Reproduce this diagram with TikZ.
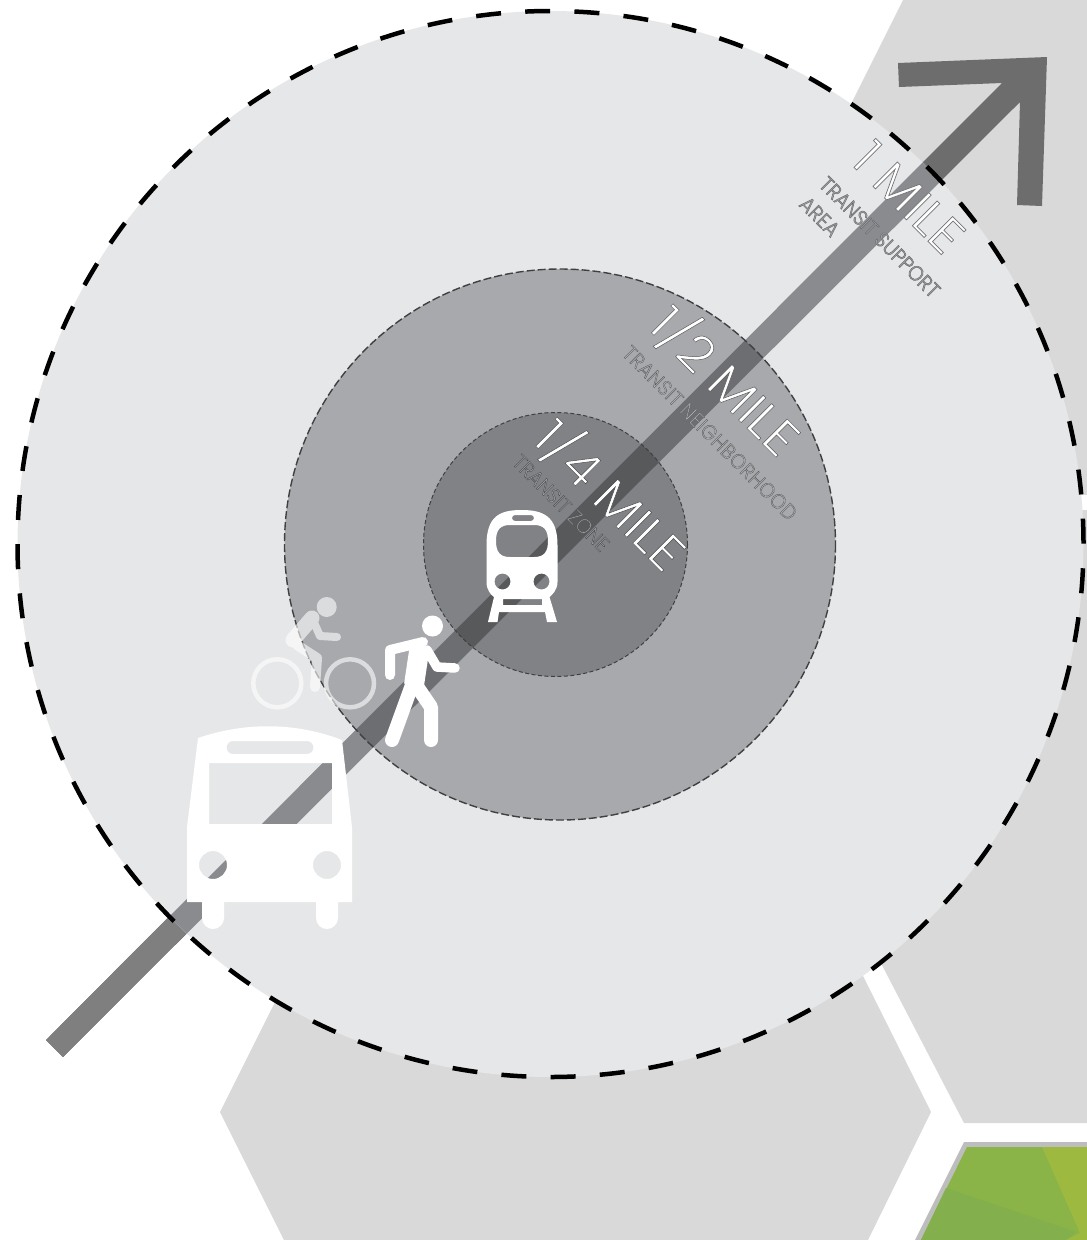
\documentclass[tikz,border=0pt]{standalone}
\usepackage{fontspec}
\usepackage{xcolor}
\usetikzlibrary{positioning}
\newfontfamily\milefont[FakeStretch=1.04]{Poppins Light}
\newfontfamily\zonefont[FakeStretch=0.92]{Poppins Light}
\newcommand{\hollow}[3]{\special{pdf:code q #3 Tr #1 w #2 RG}}
\newcommand{\hollowend}{\special{pdf:code Q}}
\definecolor{hexgray}{HTML}{D9D9D9}
\definecolor{ringone}{HTML}{E6E7E8}
\definecolor{ringtwo}{HTML}{A7A9AC}
\definecolor{ringthree}{HTML}{808285}
\definecolor{bandout}{HTML}{6D6D6D}
\definecolor{bandtail}{HTML}{7F7F7F}
\definecolor{bandone}{HTML}{8A8B8E}
\definecolor{bandtwo}{HTML}{6D6E71}
\definecolor{bandthree}{HTML}{58595B}
\begin{document}
\begin{tikzpicture}[
    x=1pt,y=-1pt,
    hexagon/.style={fill=hexgray},
    mile/.style={rotate=-45,text=white,font=\milefont\fontsize{50}{50}\selectfont},
    zone/.style={rotate=-45,align=left,text=#1,font=\zonefont\fontsize{21}{28}\selectfont},
    icon/.style={fill=white,even odd rule},
    limb/.style={draw=white,line cap=round,line join=round}
  ]
    \useasboundingbox (0,0) rectangle (1087,1240);
    \fill[hexagon] (903,0) -- (1087,0) -- (1087,1123) -- (964,1123) -- (647,513) -- cycle;
    \fill[white] (1078,495) rectangle (1087,510);
    \fill[hexagon] (220,1112) -- (376,800) -- (775,800) -- (931,1112) -- (868,1240) -- (284,1240) -- cycle;
    \fill[color={rgb,255:red,189;green,189;blue,189}] (964,1142) -- (1087,1142) -- (1087,1240) -- (915,1240) -- cycle;
    \fill[color={rgb,255:red,138;green,179;blue,72}] (967,1147) -- (1087,1147) -- (1087,1240) -- (921,1240) -- cycle;
    \fill[color={rgb,255:red,131;green,176;blue,76}] (946,1188) -- (1076,1232) -- (1066,1240) -- (921,1240) -- cycle;
    \fill[color={rgb,255:red,158;green,185;blue,64}] (1042,1147) -- (1087,1147) -- (1087,1240) -- (1066,1240) -- (1080,1233) -- cycle;

    \def\bandpath{(46,1040) -- (1002,83) -- (899,87) -- (898,63) -- (1047,57) -- (1042,206) -- (1017,205) -- (1020,102) -- (63,1057) -- cycle}
    \fill[bandout] \bandpath;
    \fill[bandtail] (46,1040) -- (300,785) -- (317,802) -- (63,1057) -- cycle;
    \fill[ringone] (550.5,544) circle (533);
    \begin{scope}
      \clip (550.5,544) circle (533);
      \fill[bandone] \bandpath;
    \end{scope}
    \fill[ringtwo] (560,544.5) circle (275.5);
    \begin{scope}
      \clip (560,544.5) circle (275.5);
      \fill[bandtwo] \bandpath;
    \end{scope}
    \fill[ringthree] (555.5,544.5) circle (132);
    \begin{scope}
      \clip (555.5,544.5) circle (132);
      \fill[bandthree] \bandpath;
    \end{scope}
    \draw[line width=4.5,dash pattern=on 25 off 24.25,dash phase=25,line cap=butt] (550.5,544) circle (533);
    \draw[line width=1.4,color=black!75,dash pattern=on 8 off 3] (560,544.5) circle (275.5);
    \draw[line width=1,color=black!75,dash pattern=on 4 off 2.5] (555.5,544.5) circle (132);

    \node[mile] (onemile) at (909,197) {\hollow{0.7}{0.45 0.45 0.46}{2}1 MILE\hollowend};
    \node[mile] (halfmile) at (726,380) {\hollow{0.5}{0.35 0.35 0.36}{2}1/2 MILE\hollowend};
    \node[mile] (quartermile) at (611,494) {\hollow{0.5}{0.3 0.3 0.31}{2}1/4 MILE\hollowend};
    \node[zone=ringtwo] (supportarea) at (870,247) {\hollow{0.5}{0.42 0.42 0.43}{2}TRANSIT SUPPORT\\\hollow{0.5}{0.42 0.42 0.43}{2}AREA\hollowend};
    \node[zone=ringtwo!85!white] (neighborhood) at (710,433) {\addfontfeature{LetterSpace=2}\hollow{0.4}{0.36 0.36 0.37}{2}TRANSIT NEIGHBORHOOD\hollowend};
    \node[zone=ringthree!75!white] (transitzone) at (561,503) {\hollow{0.4}{0.3 0.3 0.31}{2}TRANSIT ZONE\hollowend};

    \fill[icon] (198,738) .. controls (245,722) and (295,722) .. (342,740) -- (352,827) -- (352,902) -- (338,902) -- (338,918) arc (0:180:11) -- (316,902) -- (224,902) -- (224,918) arc (0:180:11) -- (202,902) -- (187,902) -- (187,827) -- cycle
      (209,763) rectangle (332,824)
      (233,741) -- (307,741) arc (-90:90:6.5) -- (233,754) arc (90:270:6.5) -- cycle
      (213,865) circle (14) (327,865) circle (14);

    \fill[icon] (486.5,545) .. controls (486.5,516) and (500,510) .. (521.5,510) .. controls (543,510) and (557.5,516) .. (557.5,545) -- (557.5,582) .. controls (557.5,590) and (552,595) .. (549.5,597) -- (557,622) -- (547,622) -- (545,612) -- (499,612) -- (497.5,622) -- (488,622) -- (494,597) .. controls (491,595) and (486.5,590) .. (486.5,582) -- cycle
      (510,525) -- (534,525) .. controls (544,525) and (548,530) .. (548,541) .. controls (548,552) and (544,557) .. (534,557) -- (510,557) .. controls (500,557) and (496,552) .. (496,541) .. controls (496,530) and (500,525) .. (510,525) -- cycle
      (515,515) -- (531,515) arc (-90:90:3) -- (515,521) arc (90:270:3) -- cycle
      (502.5,581.5) circle (8) (541.5,581.5) circle (8)
      (503,599) rectangle (542,605);

    \fill[white] (432.5,626) circle (10.5);
    \draw[limb,line width=10] (390,675) -- (390,650) -- (423,642);
    \draw[limb,line width=20,line cap=butt,line join=miter] (420,645) -- (414,685);
    \draw[limb,line width=9.5] (427,650) -- (437,667) -- (455,668);
    \draw[limb,line width=14] (412,685) -- (392,740);
    \draw[limb,line width=14] (416,685) -- (431,707) -- (431,740);

    \begin{scope}[transparency group,opacity=0.6]
      \fill[white] (326.7,607) circle (10);
      \draw[white,line width=4.5] (277.3,683.3) circle (24) (350,683.3) circle (24);
      \draw[limb,line width=15] (293,640) -- (312,618);
      \draw[limb,line width=8] (312,618) -- (320,636) -- (337,637);
      \draw[limb,line width=10] (297,645) -- (317,658) -- (315,687);
    \end{scope}
\end{tikzpicture}
\end{document}
